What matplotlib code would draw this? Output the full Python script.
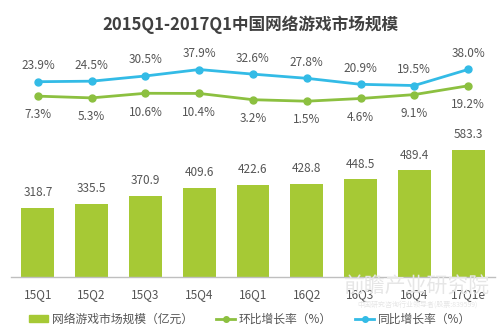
import numpy as np
import matplotlib
matplotlib.use('Agg')
import matplotlib.pyplot as plt
from matplotlib.lines import Line2D
from matplotlib.patches import Patch

plt.rcParams['font.family'] = ['Noto Sans CJK SC', 'DejaVu Sans']

# data
quarters = ['15Q1', '15Q2', '15Q3', '15Q4', '16Q1', '16Q2', '16Q3', '16Q4', '17Q1e']
market_size = [318.7, 335.5, 370.9, 409.6, 422.6, 428.8, 448.5, 489.4, 583.3]
qoq_growth = [7.3, 5.3, 10.6, 10.4, 3.2, 1.5, 4.6, 9.1, 19.2]
yoy_growth = [23.9, 24.5, 30.5, 37.9, 32.6, 27.8, 20.9, 19.5, 38.0]

bar_color = '#a6c935'
green = '#8cc040'
blue = '#33bbe6'
text_color = '#555555'

W, H = 500, 325
fig = plt.figure(figsize=(W / 100, H / 100), dpi=100)

def px_axes(x0, y0, x1, y1):
    # pixel box (top-left origin) -> figure axes
    return fig.add_axes([x0 / W, 1 - y1 / H, (x1 - x0) / W, (y1 - y0) / H])

x = np.arange(len(quarters))

# faint watermark, sits behind everything
fig.text(417 / W, 1 - 287 / H, '前瞻产业研究院', ha='center', va='center',
         fontsize=15, color='#e6e6e6', zorder=0)
fig.text(417 / W, 1 - 305 / H, '中国研究咨询行业领导者(股票:839599)', ha='center', va='center',
         fontsize=5, color='#e6e6e6', zorder=0)

# bars
ax = px_axes(11, 130, 495, 277)
ax.bar(x, market_size, width=0.61, color=bar_color, zorder=2)
ax.set_xlim(-0.5, len(quarters) - 0.5)
ax.set_ylim(0, 675)
for xi, v in zip(x, market_size):
    ax.annotate(f'{v:.1f}', (xi, v), xytext=(0, 11), textcoords='offset points',
                ha='center', va='center', fontsize=8.5, color=text_color)
ax.set_xticks(x)
ax.set_xticklabels(quarters, fontsize=8.5, color=text_color)
ax.tick_params(axis='x', length=0, pad=8)
ax.set_yticks([])
for s in ['top', 'right', 'left']:
    ax.spines[s].set_visible(False)
ax.spines['bottom'].set_color('#bfbfbf')
ax.spines['bottom'].set_linewidth(1)
ax.patch.set_alpha(0)

# growth lines: y_px = 102.5 - 0.87 * v
top_px, bot_px = 40, 125
lax = px_axes(11, top_px, 495, bot_px)
lax.set_xlim(-0.5, len(quarters) - 0.5)
lax.set_ylim((102.5 - bot_px) / 0.87, (102.5 - top_px) / 0.87)
lax.plot(x, yoy_growth, color=blue, lw=2, marker='o', ms=5, zorder=3)
lax.plot(x, qoq_growth, color=green, lw=2, marker='o', ms=5, zorder=3)
for xi, v in zip(x, yoy_growth):
    lax.annotate(f'{v:.1f}%', (xi, v), xytext=(0, 11.5), textcoords='offset points',
                 ha='center', va='center', fontsize=8.5, color=text_color)
for xi, v in zip(x, qoq_growth):
    lax.annotate(f'{v:.1f}%', (xi, v), xytext=(0, -13.5), textcoords='offset points',
                 ha='center', va='center', fontsize=8.5, color=text_color)
lax.axis('off')

fig.text(0.5, 1 - 25 / H, '2015Q1-2017Q1中国网络游戏市场规模', ha='center', va='center',
         fontsize=12, fontweight='bold', color='#404040')

handles = [
    Patch(color=bar_color),
    Line2D([], [], color=green, lw=2, marker='o', ms=4),
    Line2D([], [], color=blue, lw=2, marker='o', ms=4),
]
labels = ['网络游戏市场规模（亿元）', '环比增长率（%）', '同比增长率（%）']
fig.legend(handles, labels, loc='center', bbox_to_anchor=(0.5, 1 - 319 / H), ncol=3,
           frameon=False, fontsize=8.5, handlelength=1.6, handleheight=0.6,
           handletextpad=0.3, columnspacing=2.0, labelcolor=text_color)

fig.savefig('out.png', dpi=100, facecolor='white')
